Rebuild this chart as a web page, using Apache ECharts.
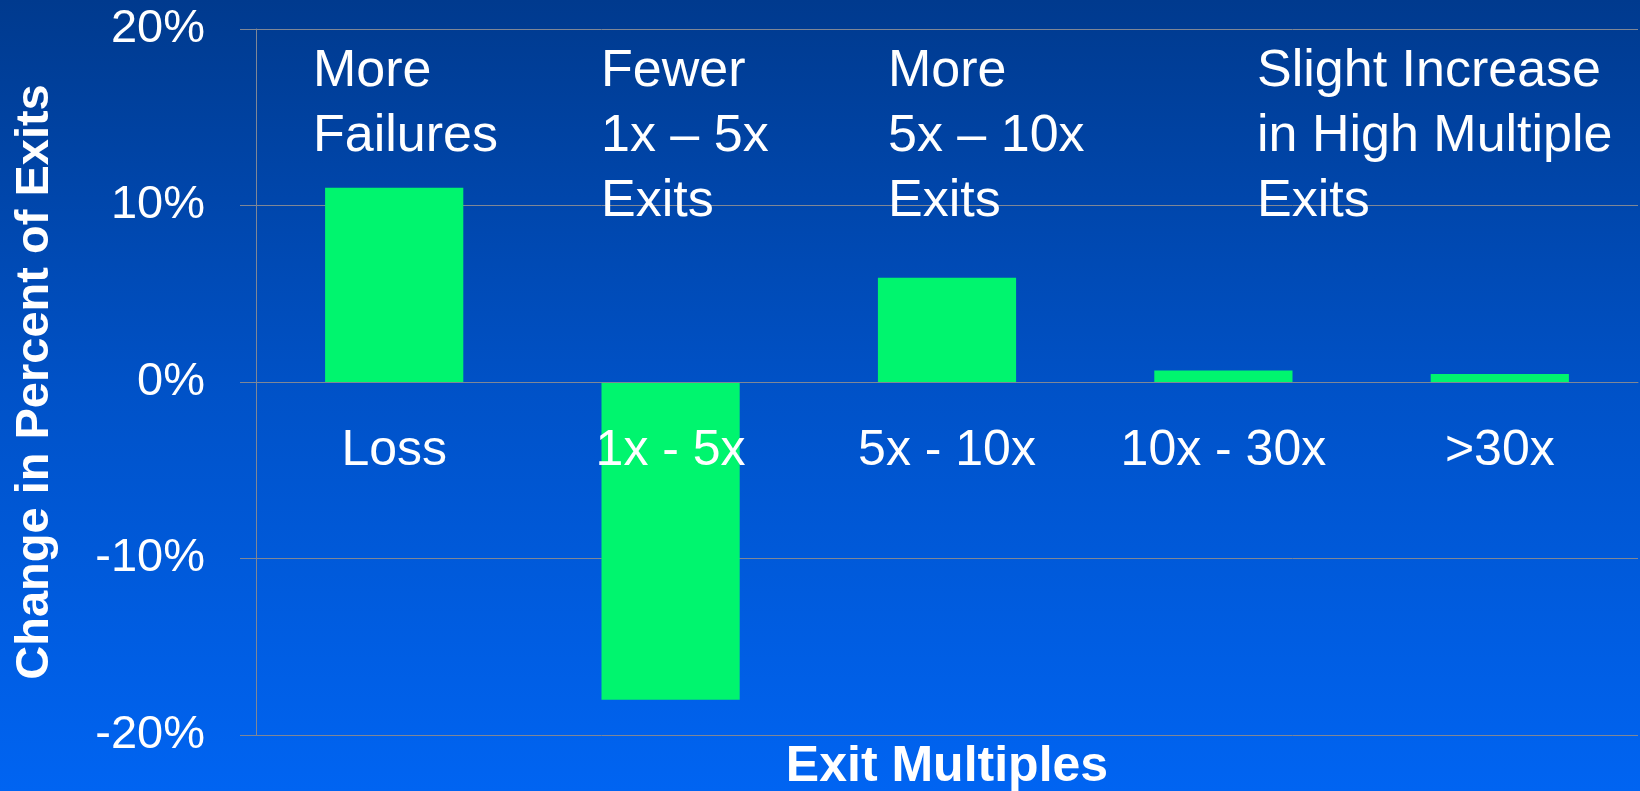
<!DOCTYPE html>
<html>
<head>
<meta charset="utf-8">
<script src="https://cdn.jsdelivr.net/npm/echarts@6/dist/echarts.min.js"></script>
<style>
  html, body { margin: 0; padding: 0; width: 1640px; height: 791px; overflow: hidden; }
  #chart { width: 1640px; height: 791px; }
</style>
</head>
<body>
<div id="chart"></div>
<script>
// ---- data ----
const categories = ['Loss', '1x - 5x', '5x - 10x', '10x - 30x', '>30x'];
const changeValues = [11, -18, 5.9, 0.65, 0.45];
const yTicks = [-20, -10, 0, 10, 20];
const yAxisTitle = 'Change in Percent of Exits';
const xAxisTitle = 'Exit Multiples';
const annotationTexts = [
  ['More', 'Failures'],
  ['Fewer', '1x \u2013 5x', 'Exits'],
  ['More', '5x \u2013 10x', 'Exits'],
  ['Slight Increase', 'in High Multiple', 'Exits']
];

// ---- layout (not data) ----
const annotationLayout = [
  { left: 313, top: 39 },
  { left: 601, top: 39 },
  { left: 888, top: 39 },
  { left: 1257, top: 39 }
];

const FONT = '"Liberation Sans", Arial, Helvetica, sans-serif';
const GRID_COLOR = '#7f8796';
const GRID_BOTTOM = 56;

const chart = echarts.init(document.getElementById('chart'), null, { renderer: 'canvas' });

function buildOption(xOffset) {
  return {
    animation: false,
    backgroundColor: {
      type: 'linear', x: 0, y: 0, x2: 0, y2: 1,
      colorStops: [
        { offset: 0, color: '#003a8e' },
        { offset: 0.5, color: '#0052c8' },
        { offset: 1, color: '#0064f2' }
      ]
    },
    textStyle: { fontFamily: FONT },
    grid: { left: 256, right: 2, top: 29, bottom: GRID_BOTTOM, containLabel: false, outerBoundsMode: 'none' },
    xAxis: {
      type: 'category',
      data: categories,
      offset: xOffset,
      z: 10,
      axisLine: { show: true, onZero: false, lineStyle: { color: GRID_COLOR, width: 1 } },
      axisTick: { show: false },
      axisLabel: { color: '#ffffff', fontSize: 50, fontFamily: FONT, margin: 44, interval: 0 },
      splitLine: { show: false },
      name: xAxisTitle,
      nameLocation: 'middle',
      nameGap: 360,
      nameTextStyle: { color: '#ffffff', fontSize: 50, fontWeight: 'bold', fontFamily: FONT }
    },
    yAxis: {
      type: 'value',
      min: yTicks[0],
      max: yTicks[yTicks.length - 1],
      interval: yTicks[1] - yTicks[0],
      axisLine: { show: true, lineStyle: { color: GRID_COLOR, width: 1 } },
      axisTick: { show: true, inside: false, length: 16, lineStyle: { color: GRID_COLOR } },
      axisLabel: {
        color: '#ffffff', fontSize: 47, fontFamily: FONT, margin: 51,
        formatter: v => v + '%'
      },
      splitLine: { show: true, lineStyle: { color: GRID_COLOR, width: 1 } },
      name: yAxisTitle,
      nameLocation: 'middle',
      nameGap: 197,
      nameRotate: 90,
      nameTextStyle: { color: '#ffffff', fontSize: 47, fontWeight: 'bold', fontFamily: FONT }
    },
    series: [{
      type: 'bar',
      data: changeValues,
      barWidth: '50%',
      itemStyle: { color: '#00f56e' },
      z: 2
    }],
    graphic: annotationTexts.map((lines, i) => ({
      type: 'text',
      left: annotationLayout[i].left,
      top: annotationLayout[i].top,
      z: 100,
      style: {
        text: lines.join('\n'),
        fill: '#ffffff',
        font: '52px ' + FONT,
        lineHeight: 65
      }
    }))
  };
}

chart.setOption(buildOption(0));
// Place the category axis on the zero line of the value axis.
const zeroY = chart.convertToPixel({ yAxisIndex: 0 }, 0);
const bottomY = chart.getHeight() - GRID_BOTTOM;
chart.setOption(buildOption(-(bottomY - zeroY)));
</script>
</body>
</html>
